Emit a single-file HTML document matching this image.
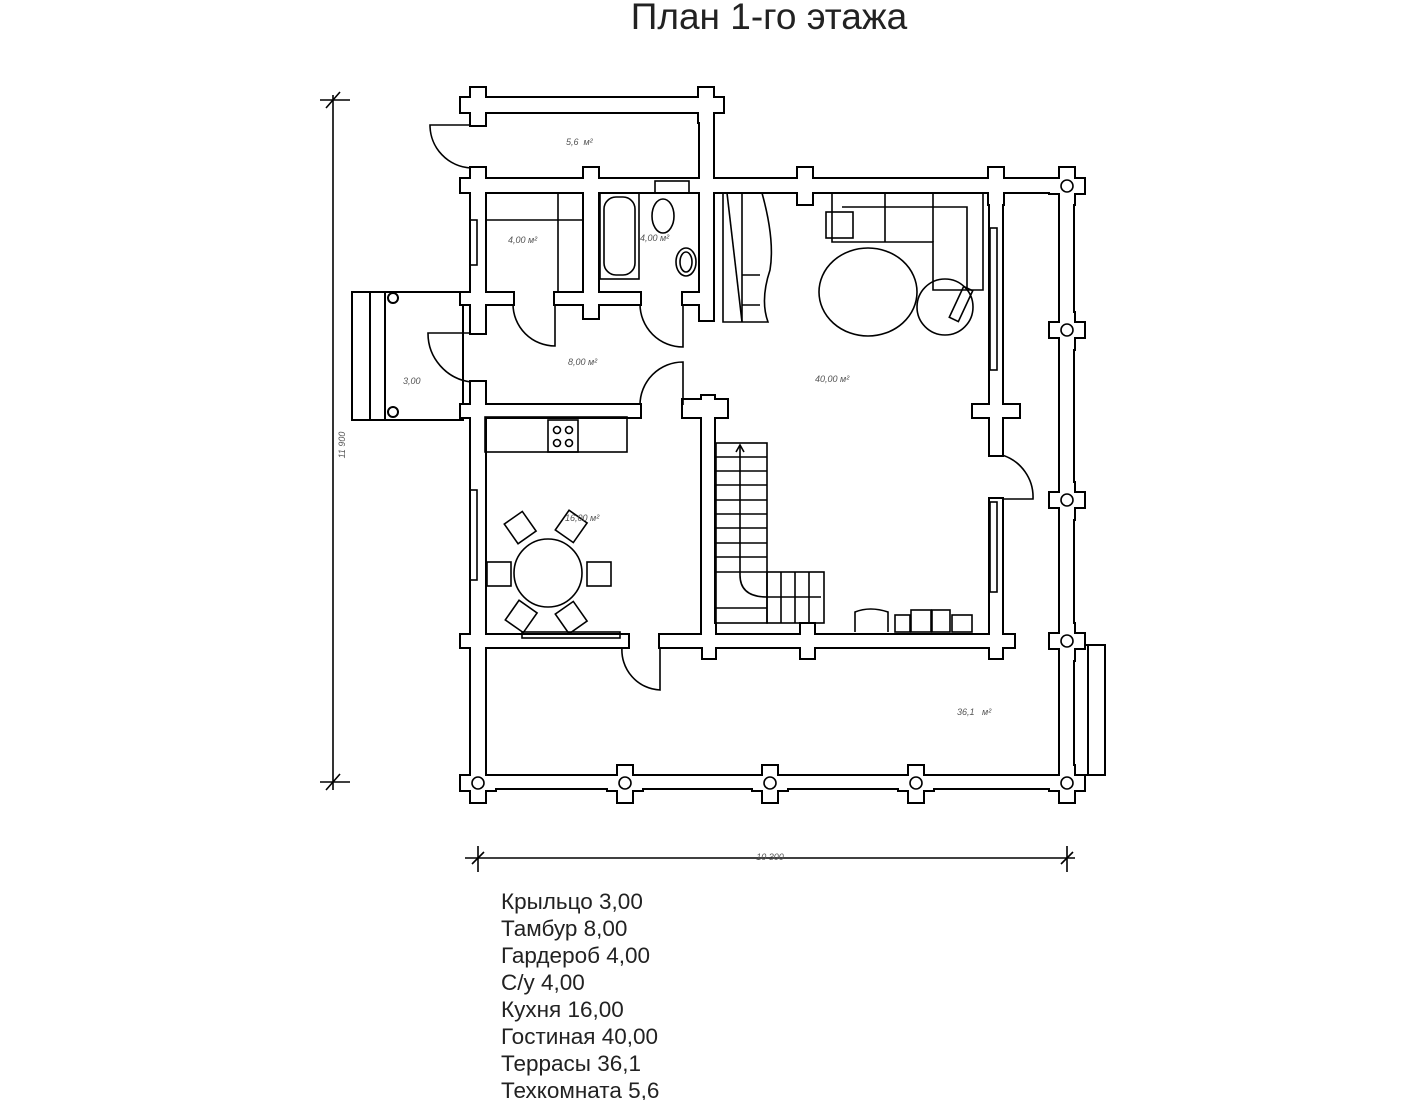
<!DOCTYPE html>
<html><head><meta charset="utf-8"><style>
html,body{margin:0;padding:0;background:#fff;}
svg{display:block}
.lbl{font-family:"Liberation Sans",sans-serif;font-style:italic;font-size:9px;fill:#555}
.leg{font-family:"Liberation Sans",sans-serif;font-size:22.5px;fill:#222}
</style></head><body>
<svg width="1422" height="1100" viewBox="0 0 1422 1100" xmlns="http://www.w3.org/2000/svg">
<defs>
<g id="walls">
 <rect x="478" y="98" width="228" height="14"/>
 <rect x="478" y="179" width="589" height="13"/>
 <rect x="478" y="293" width="35" height="11"/>
 <rect x="555" y="293" width="85" height="11"/>
 <rect x="683" y="293" width="23" height="11"/>
 <rect x="478" y="405" width="162" height="12"/>
 <rect x="683" y="405" width="23" height="12"/>
 <rect x="478" y="635" width="144" height="12"/>
 <rect x="660" y="635" width="342" height="12"/>
 <rect x="478" y="776" width="589" height="12"/>
 <rect x="471" y="105" width="14" height="20"/>
 <rect x="471" y="168" width="14" height="165"/>
 <rect x="471" y="382" width="14" height="401"/>
 <rect x="700" y="98" width="13" height="222"/>
 <rect x="584" y="186" width="14" height="132"/>
 <rect x="702" y="400" width="12" height="247"/>
 <rect x="990" y="186" width="12" height="269"/>
 <rect x="990" y="499" width="12" height="148"/>
 <rect x="1060" y="186" width="13" height="597"/>
 <rect x="471" y="88" width="14" height="34"/><rect x="461" y="98" width="34" height="14"/>
 <rect x="699" y="88" width="14" height="34"/><rect x="689" y="98" width="34" height="14"/>
 <rect x="471" y="168" width="14" height="36"/><rect x="461" y="179" width="34" height="13"/>
 <rect x="584" y="168" width="14" height="36"/><rect x="574" y="179" width="34" height="13"/>
 <rect x="700" y="168" width="13" height="36"/><rect x="689" y="179" width="34" height="13"/>
 <rect x="798" y="168" width="14" height="36"/><rect x="788" y="179" width="34" height="13"/>
 <rect x="989" y="168" width="14" height="36"/><rect x="979" y="179" width="34" height="13"/>
 <rect x="471" y="282" width="14" height="34"/><rect x="461" y="293" width="34" height="11"/>
 <rect x="584" y="282" width="14" height="36"/>
 <rect x="700" y="282" width="13" height="38"/>
 <rect x="471" y="394" width="14" height="34"/><rect x="461" y="405" width="34" height="12"/>
 <rect x="702" y="396" width="12" height="34"/><rect x="683" y="400" width="44" height="17"/>
 <rect x="990" y="394" width="12" height="34"/><rect x="973" y="405" width="46" height="12"/>
 <rect x="471" y="624" width="14" height="34"/><rect x="461" y="635" width="34" height="12"/>
 <rect x="703" y="624" width="12" height="34"/><rect x="693" y="635" width="34" height="12"/>
 <rect x="801" y="624" width="13" height="34"/><rect x="791" y="635" width="34" height="12"/>
 <rect x="990" y="624" width="12" height="34"/><rect x="980" y="635" width="34" height="12"/>
 <rect x="1060" y="168" width="14" height="36"/><rect x="1050" y="179" width="34" height="14"/>
 <rect x="1060" y="313" width="14" height="36"/><rect x="1050" y="323" width="34" height="14"/>
 <rect x="1060" y="483" width="14" height="36"/><rect x="1050" y="493" width="34" height="14"/>
 <rect x="1060" y="624" width="14" height="36"/><rect x="1050" y="634" width="34" height="14"/>
 <rect x="1060" y="766" width="14" height="36"/><rect x="1050" y="776" width="34" height="14"/>
 <rect x="471" y="766" width="14" height="36"/><rect x="461" y="776" width="34" height="14"/>
 <rect x="618" y="766" width="14" height="36"/><rect x="608" y="776" width="34" height="14"/>
 <rect x="763" y="766" width="14" height="36"/><rect x="753" y="776" width="34" height="14"/>
 <rect x="909" y="766" width="14" height="36"/><rect x="899" y="776" width="34" height="14"/>
 <rect x="622" y="635" width="6" height="12"/>
</g>
</defs>
<text x="769" y="29" text-anchor="middle" font-family="Liberation Sans, sans-serif" font-size="37" fill="#222">План 1-го этажа</text>

<g fill="#fff" stroke="#000" stroke-width="2">
<rect x="352" y="292" width="111" height="128"/>
<line x1="370" y1="292" x2="370" y2="420"/><line x1="385" y1="292" x2="385" y2="420"/>
<circle cx="393" cy="298" r="5"/><circle cx="393" cy="412" r="5"/>
<rect x="1073" y="645" width="32" height="130"/>
<line x1="1088" y1="645" x2="1088" y2="775"/>
</g>

<use href="#walls" fill="#000" stroke="#000" stroke-width="4"/>
<use href="#walls" fill="#fff" stroke="none"/>

<g fill="none" stroke="#000" stroke-width="1.6">
 <circle cx="1067" cy="186" r="6"/><circle cx="1067" cy="330" r="6"/><circle cx="1067" cy="500" r="6"/>
 <circle cx="1067" cy="641" r="6"/><circle cx="1067" cy="783" r="6"/><circle cx="478" cy="783" r="6"/>
 <circle cx="625" cy="783" r="6"/><circle cx="770" cy="783" r="6"/><circle cx="916" cy="783" r="6"/>
 <path d="M471 125 L430 125 A43 43 0 0 0 471 168"/>
 <path d="M471 333 L428 333 A49 49 0 0 0 471 382"/>
 <path d="M513 304 A42 42 0 0 0 555 346 L555 304"/>
 <path d="M640 304 A43 43 0 0 0 683 347 L683 304"/>
 <path d="M640 405 A43 43 0 0 1 683 362 L683 405"/>
 <path d="M622 647 A40 40 0 0 0 660 690 L660 647"/>
 <path d="M1002 455 A44 44 0 0 1 1033 499 L1002 499"/>
 <rect x="470" y="220" width="7" height="45"/>
 <rect x="470" y="490" width="7" height="90"/>
 <rect x="990" y="228" width="7" height="142"/>
 <rect x="990" y="502" width="7" height="90"/>
 <line x1="485" y1="220" x2="584" y2="220"/><line x1="558" y1="192" x2="558" y2="293"/>
 <rect x="600" y="193" width="39" height="86"/>
 <rect x="604" y="197" width="31" height="78" rx="12"/>
 <rect x="655" y="181" width="34" height="12"/>
 <ellipse cx="663" cy="216" rx="11" ry="17"/>
 <ellipse cx="686" cy="262" rx="10" ry="14"/><ellipse cx="686" cy="262" rx="6" ry="10"/>
 <path d="M723 193 L723 322 L768 322 Q760 300 770 270 Q775 240 762 193"/>
 <line x1="727" y1="193" x2="742" y2="322"/><line x1="742" y1="193" x2="742" y2="322"/>
 <line x1="742" y1="275" x2="760" y2="275"/><line x1="742" y1="305" x2="760" y2="305"/>
 <path d="M832 193 L983 193 L983 290 L933 290 L933 242 L832 242 Z"/>
 <path d="M842 207 L967 207 L967 288"/>
 <line x1="885" y1="193" x2="885" y2="242"/><line x1="933" y1="193" x2="933" y2="242"/>
 <rect x="826" y="212" width="27" height="26"/>
 <ellipse cx="868" cy="292" rx="49" ry="44"/>
 <circle cx="945" cy="307" r="28"/>
 <rect x="956" y="287" width="10" height="34" transform="rotate(25 961 304)"/>
 <rect x="485" y="417" width="142" height="35"/>
 <rect x="548" y="420" width="30" height="32"/>
 <circle cx="557" cy="430" r="3.5"/><circle cx="569" cy="430" r="3.5"/><circle cx="557" cy="443" r="3.5"/><circle cx="569" cy="443" r="3.5"/>
 <rect x="522" y="632" width="98" height="6"/>
 <ellipse cx="548" cy="573" rx="34" ry="34"/>
 <rect x="487" y="562" width="24" height="24"/><rect x="587" y="562" width="24" height="24"/>
 <rect x="-12" y="-12" width="22" height="24" transform="translate(521 527) rotate(-35)"/>
 <rect x="-12" y="-12" width="22" height="24" transform="translate(572 527) rotate(35)"/>
 <rect x="-12" y="-12" width="22" height="24" transform="translate(522 617) rotate(35)"/>
 <rect x="-12" y="-12" width="22" height="24" transform="translate(572 617) rotate(-35)"/>
 <rect x="716" y="443" width="51" height="180"/>
 <line x1="716" y1="457" x2="767" y2="457"/><line x1="716" y1="471" x2="767" y2="471"/><line x1="716" y1="485" x2="767" y2="485"/>
 <line x1="716" y1="500" x2="767" y2="500"/><line x1="716" y1="514" x2="767" y2="514"/><line x1="716" y1="528" x2="767" y2="528"/>
 <line x1="716" y1="543" x2="767" y2="543"/><line x1="716" y1="557" x2="767" y2="557"/><line x1="716" y1="572" x2="767" y2="572"/>
 <line x1="716" y1="608" x2="767" y2="608"/>
 <rect x="767" y="572" width="57" height="51"/>
 <line x1="781" y1="572" x2="781" y2="623"/><line x1="795" y1="572" x2="795" y2="623"/><line x1="809" y1="572" x2="809" y2="623"/>
 <path d="M740 445 L740 575 Q740 597 767 597 L821 597"/>
 <path d="M736 452 L740 445 L744 452"/>
 <path d="M855 632 L855 612 Q870 606 888 612 L888 632"/>
 <rect x="895" y="615" width="15" height="17"/><rect x="911" y="610" width="20" height="22"/>
 <rect x="932" y="610" width="18" height="22"/><rect x="952" y="615" width="20" height="17"/>
 <line x1="333" y1="95" x2="333" y2="790"/>
 <line x1="320" y1="100" x2="350" y2="100"/><line x1="320" y1="782" x2="350" y2="782"/>
 <line x1="326" y1="108" x2="340" y2="92"/><line x1="326" y1="790" x2="340" y2="774"/>
 <line x1="465" y1="858" x2="1075" y2="858"/>
 <line x1="478" y1="846" x2="478" y2="872"/><line x1="1067" y1="846" x2="1067" y2="872"/>
 <line x1="472" y1="864" x2="484" y2="852"/><line x1="1061" y1="864" x2="1073" y2="852"/>
</g>

<g class="lbl">
<text x="566" y="145">5,6 &#160;м²</text>
<text x="508" y="243">4,00 м²</text>
<text x="640" y="241">4,00 м²</text>
<text x="568" y="365">8,00 м²</text>
<text x="403" y="384">3,00</text>
<text x="815" y="382">40,00 м²</text>
<text x="565" y="521">16,00 м²</text>
<text x="957" y="715">36,1 &#160;&#160;м²</text>
<text x="770" y="860" text-anchor="middle">10 300</text>
<text x="0" y="0" transform="translate(345 445) rotate(-90)" text-anchor="middle">11 900</text>
</g>

<g class="leg">
<text x="501" y="909">Крыльцо  3,00</text>
<text x="501" y="936">Тамбур 8,00</text>
<text x="501" y="963">Гардероб 4,00</text>
<text x="501" y="990">С/у 4,00</text>
<text x="501" y="1017">Кухня 16,00</text>
<text x="501" y="1044">Гостиная 40,00</text>
<text x="501" y="1071">Террасы 36,1</text>
<text x="501" y="1098">Техкомната 5,6</text>
</g>
</svg>
</body></html>
